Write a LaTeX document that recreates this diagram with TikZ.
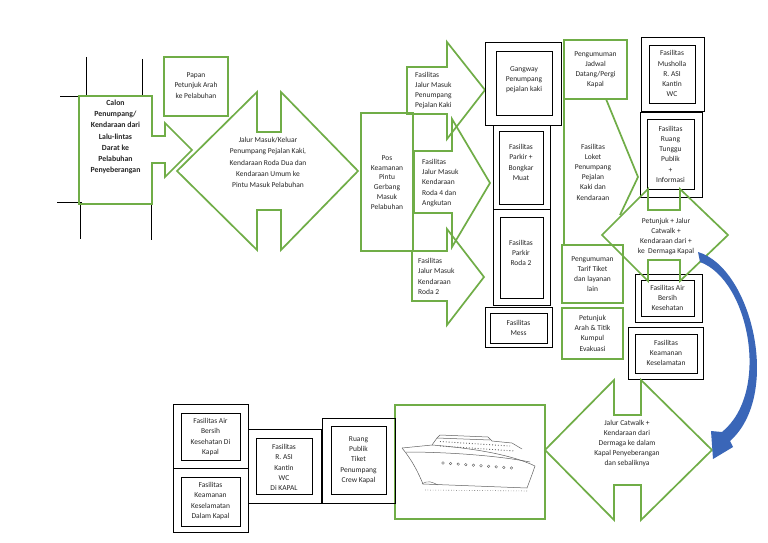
\documentclass[tikz,border=0pt]{standalone}
\usepackage{fontspec}
\setmainfont{Carlito}
\definecolor{grn}{HTML}{70AD47}
\definecolor{txt}{HTML}{262626}
\definecolor{blu}{HTML}{3A66B8}
\definecolor{shp}{HTML}{606060}
\begin{document}
\begin{tikzpicture}[x=1pt,y=-1pt,
  gline/.style={draw=grn,line width=1.7pt,line join=miter},
  bline/.style={draw=black,line width=0.9pt},
  lbl/.style={font=\fontsize{7.5}{10.2}\selectfont,text=txt,align=center,inner sep=0pt},
  lbll/.style={lbl,align=left,anchor=west},
  shipline/.style={draw=shp,line width=0.5pt}]
\useasboundingbox[fill=white] (0,0) rectangle (768,543);

% crop marks
\draw[black,line width=0.8pt] (86,57) -- (86,96) -- (60,96);
\draw[black,line width=0.8pt] (142,59) -- (142,97);
\draw[black,line width=0.8pt] (57,202) -- (82,202);
\draw[black,line width=0.8pt] (80,202) -- (80,239);
\draw[black,line width=0.8pt] (151,205) -- (151,240);

% Calon callout arrow
\draw[gline] (79,96) -- (152,96) -- (152,136) -- (165,136) -- (165,123) -- (192,150)
  -- (165,177) -- (165,163) -- (152,163) -- (152,204) -- (79,204) -- cycle;
\node[lbl,font=\fontsize{7.8}{11.3}\selectfont\bfseries] (calon) at (115.5,137)
  {Calon\\Penumpang/\\Kendaraan dari\\Lalu-lintas\\Darat ke\\Pelabuhan\\Penyeberangan};

% Papan
\draw[gline] (164,57) rectangle (228,116);
\node[lbl,font=\fontsize{7.5}{10.6}\selectfont] (papan) at (196,85.5) {Papan\\Petunjuk Arah\\ke Pelabuhan};

% big double arrow
\draw[gline] (177,171) -- (257,92) -- (257,132) -- (281,132) -- (281,92) -- (358,171)
  -- (281,250) -- (281,210) -- (257,210) -- (257,250) -- cycle;
\node[lbl,font=\fontsize{7.5}{11.2}\selectfont] (jalur) at (268,162.5)
  {Jalur Masuk/Keluar\\Penumpang Pejalan Kaki,\\Kendaraan Roda Dua dan\\Kendaraan Umum ke\\Pintu Masuk Pelabuhan};

% Pos
\draw[gline] (361,113) rectangle (413,251);
\node[lbl,font=\fontsize{7.5}{9.8}\selectfont] (pos) at (387,182.5) {Pos\\Keamanan\\Pintu\\Gerbang\\Masuk\\Pelabuhan};

% three arrows
\draw[gline] (407,67) -- (447,67) -- (447,42) -- (485,90) -- (447,139) -- (447,114) -- (407,114) -- cycle;
\draw[gline] (414,151) -- (452,151) -- (452,119) -- (490,183) -- (452,247) -- (452,213) -- (414,213) -- cycle;
\draw[gline] (412,251) -- (447,251) -- (447,229) -- (484,277) -- (447,325) -- (447,301) -- (412,301) -- cycle;
\node[lbll] (a1) at (415,90.7) {Fasilitas\\Jalur Masuk\\Penumpang\\Pejalan Kaki};
\node[lbll] (a2) at (422,183) {Fasilitas\\Jalur Masuk\\Kendaraan\\Roda 4 dan\\Angkutan};
\node[lbll] (a3) at (418,276.5) {Fasilitas\\Jalur Masuk\\Kendaraan\\Roda 2};

% middle column of double boxes
\draw[bline] (485,42) rectangle (561,125); \draw[bline] (496,51) rectangle (552,115);
\node[lbl] (gangway) at (524,80) {Gangway\\Penumpang\\pejalan kaki};
\draw[bline] (493,125) rectangle (550,209); \draw[bline] (499,131) rectangle (543,204);
\node[lbl] (parkir) at (521,162.5) {Fasilitas\\Parkir +\\Bongkar\\Muat};
\draw[bline] (493,209) rectangle (550,305); \draw[bline] (500,217) rectangle (543,298);
\node[lbl] (parkirdua) at (521,253) {Fasilitas\\Parkir\\Roda 2};
\draw[bline] (485,307) rectangle (552,347); \draw[bline] (490,313) rectangle (547,343);
\node[lbl] (mess) at (518.5,328.3) {Fasilitas\\Mess};

% green column right
\draw[gline] (564,40) rectangle (627,99);
\node[lbl] (jadwal) at (595.5,69.7) {Pengumuman\\Jadwal\\Datang/Pergi\\Kapal};
\draw[gline] (564,245) -- (564,99) -- (606,99) -- (638,177) -- (620,215);
\node[lbl] (loket) at (593,172) {Fasilitas\\Loket\\Penumpang\\Pejalan\\Kaki dan\\Kendaraan};
\draw[gline] (562,245) rectangle (623,303);
\node[lbl] (tarif) at (592.5,274) {Pengumuman\\Tarif Tiket\\dan layanan\\lain};
\draw[gline] (562,308) rectangle (623,359);
\node[lbl] (evak) at (592.5,333.3) {Petunjuk\\Arah \& Titik\\Kumpul\\Evakuasi};

% right column double boxes
\draw[bline] (641,37) rectangle (704,111); \draw[bline] (649,45) rectangle (695,103);
\node[lbl] (musholla) at (672,73.8) {Fasilitas\\Musholla\\R. ASI\\Kantin\\WC};
\draw[bline] (640,112) rectangle (702,197); \draw[bline] (647,119) rectangle (694,189);
\node[lbl] (tunggu) at (670.5,154.3) {Fasilitas\\Ruang\\Tunggu\\Publik\\+\\Informasi};
\draw[bline] (635,274) rectangle (702,322); \draw[bline] (641,280) rectangle (694,316);
\node[lbl] (air) at (667.5,298) {Fasilitas Air\\Bersih\\Kesehatan};
\draw[bline] (628,327) rectangle (703,379); \draw[bline] (635,334) rectangle (697,373);
\node[lbl] (aman) at (666,353) {Fasilitas\\Keamanan\\Keselamatan};

% diamond double arrow
\draw[gline] (602,235) -- (648,189) -- (648,210) -- (680,210) -- (680,189) -- (728,235)
  -- (680,281) -- (680,260) -- (648,260) -- (648,281) -- cycle;
\node[lbl] (diamond) at (666,236.7) {Petunjuk + Jalur\\Catwalk +\\Kendaraan dari +\\ke\ \ Dermaga Kapal};

% catwalk double arrow
\draw[gline] (545,450) -- (614,380) -- (614,415) -- (641,415) -- (641,380) -- (712,450)
  -- (641,520) -- (641,485) -- (614,485) -- (614,520) -- cycle;
\node[lbl] (catwalk) at (627,443.5) {Jalur Catwalk +\\Kendaraan dari\\Dermaga ke dalam\\Kapal Penyeberangan\\dan sebaliknya};

% blue curved arrow
\fill[blu] (698,252) .. controls (752,268) and (782,395) .. (730,441) -- (733,447) -- (713,459)
  -- (711,431) -- (722,432) .. controls (771,392) and (749,280) .. (700,262) -- cycle;

% ship box
\draw[gline] (395,405) rectangle (545,519);
\draw[shipline] (402,448) -- (432,445) .. controls (470,448) and (510,454) .. (535,466);
\draw[shipline] (402,448) .. controls (412,460) and (418,472) .. (423,484) -- (527,488)
  .. controls (530,480) and (533,472) .. (535,466);
\draw[shipline] (406,452) .. controls (450,452) and (500,456) .. (530,462);
\draw[shipline] (432,445) -- (437,438) -- (440,435) -- (488,437) -- (492,441) -- (512,443) -- (522,449);
\draw[shipline] (437,438) -- (490,440);
\draw[draw=shp,dotted,line width=0.9pt] (440,441.5) -- (510,446);
\draw[draw=shp,dotted,line width=0.9pt] (440,446) -- (515,451);
\foreach \i in {0,...,9} \draw[shipline,line width=0.4pt] ({443+7.6*\i},{463+0.55*\i}) circle (1.3pt);
\draw[shipline,line width=0.4pt] (422,484) .. controls (428,480) and (432,482) .. (438,485);
\draw[draw=shp,dotted,line width=0.6pt] (425,490) -- (528,491);

% bottom-left double boxes
\draw[bline] (173,404) rectangle (248,468); \draw[bline] (181,413) rectangle (240,460);
\node[lbl] (airkapal) at (210.5,437) {Fasilitas Air\\Bersih\\Kesehatan Di\\Kapal};
\draw[bline] (173,468) rectangle (248,532); \draw[bline] (181,477) rectangle (240,526);
\node[lbl] (amankapal) at (210.5,501) {Fasilitas\\Keamanan\\Keselamatan\\Dalam Kapal};
\draw[bline] (248,429) rectangle (321,503); \draw[bline] (256,438) rectangle (312,494);
\node[lbl] (asikapal) at (284,467.5) {Fasilitas\\R. ASI\\Kantin\\WC\\Di KAPAL};
\draw[bline] (322,418) rectangle (395,503); \draw[bline] (331,426) rectangle (386,494);
\node[lbl] (publik) at (358.5,460) {Ruang\\Publik\\Tiket\\Penumpang\\Crew Kapal};
\end{tikzpicture}
\end{document}
